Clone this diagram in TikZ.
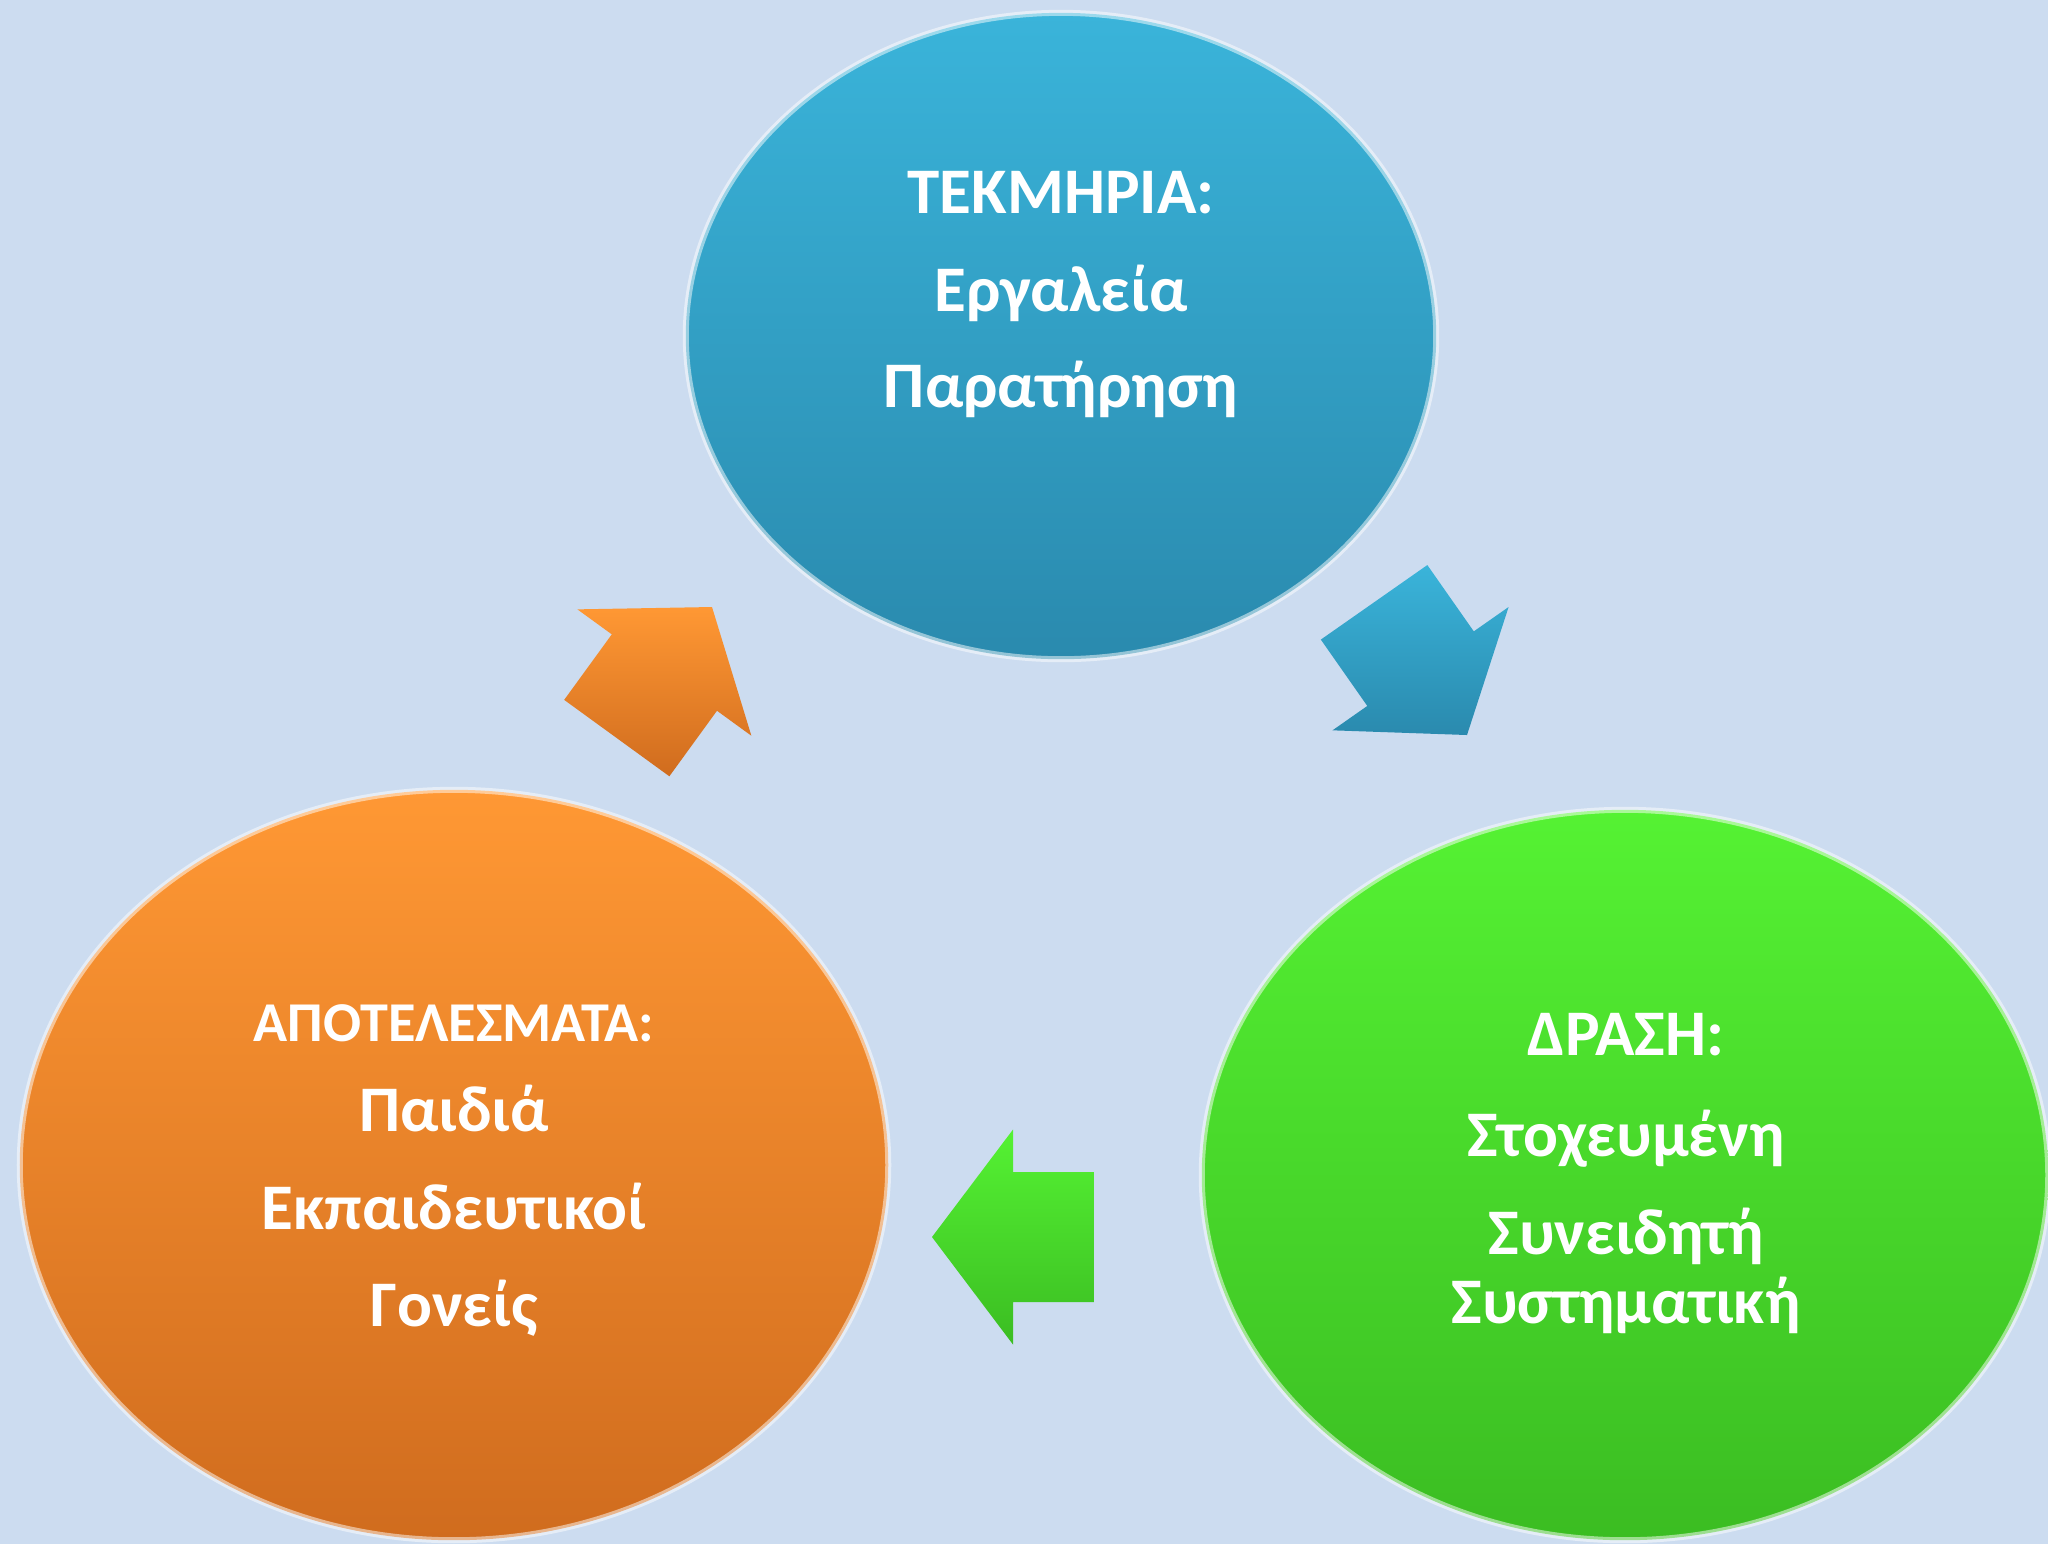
\documentclass[tikz,border=0pt]{standalone}
\usepackage{fontspec}
\setmainfont{Carlito}
\usepackage{tikz}
\usetikzlibrary{shapes.geometric}
\definecolor{slidebg}{HTML}{CCDCF0}
\definecolor{blueTop}{HTML}{3AB4DA}
\definecolor{blueBot}{HTML}{2A8AAE}
\definecolor{orangeTop}{HTML}{FF9834}
\definecolor{orangeBot}{HTML}{D06C1E}
\definecolor{greenTop}{HTML}{55F233}
\definecolor{greenBot}{HTML}{3BBD22}

\begin{document}
\begin{tikzpicture}
                        [
                            x=0.01cm, y=-0.01cm,
                            bubble/.style={ellipse, inner sep=0pt, line width=0.6mm, draw=white, draw opacity=0.5},
                            line text/.style={anchor=base, text=white, font=\fontsize{18.5}{22}\selectfont\bfseries},
                            small head/.style={anchor=base, text=white, font=\fontsize{16}{19}\selectfont\bfseries}
                        ]
                        \clip (0,0) rectangle (2048,1544);
                        \fill[slidebg] (0,0) rectangle (2048,1544);
                        % the three stages
                        \node[bubble, top color=blueTop, bottom color=blueBot, minimum width=7.5cm, minimum height=6.46cm] (tekmiria) at (1061,336) {};
                        \node[bubble, top color=orangeTop, bottom color=orangeBot, minimum width=8.68cm, minimum height=7.5cm] (apotelesmata) at (454,1165) {};
                        \node[bubble, top color=greenTop, bottom color=greenBot, minimum width=8.46cm, minimum height=7.3cm] (drasi) at (1625,1175) {};
                        \node[line text] (tek-0) at (1061,213) {ΤΕΚΜΗΡΙΑ:};
                        \node[line text] (tek-1) at (1061,311) {Εργαλεία};
                        \node[line text] (tek-2) at (1061,407) {Παρατήρηση};
                        \node[small head] (apo-0) at (454,1041) {ΑΠΟΤΕΛΕΣΜΑΤΑ:};
                        \node[line text] (apo-1) at (454,1131) {Παιδιά};
                        \node[line text] (apo-2) at (454,1229) {Εκπαιδευτικοί};
                        \node[line text] (apo-3) at (454,1326) {Γονείς};
                        \node[line text] (dra-0) at (1626,1055) {ΔΡΑΣΗ:};
                        \node[line text] (dra-1) at (1626,1156) {Στοχευμένη};
                        \node[line text] (dra-2) at (1626,1254) {Συνειδητή};
                        \node[line text] (dra-3) at (1626,1323) {Συστηματική};
                        % block arrows, tip at the given point
                        \foreach \tipx/\tipy/\ang/\ca/\cb in {712/607/54/orangeTop/orangeBot, 1467/735/-55/blueTop/blueBot, 932/1237/180/greenTop/greenBot}
                            \shade[top color=\ca, bottom color=\cb, shift={(\tipx,\tipy)}, rotate=\ang]
                                (0,0) -- (-81,107.5) -- (-81,65) -- (-162,65) -- (-162,-65) -- (-81,-65) -- (-81,-107.5) -- cycle;
                        \end{tikzpicture}
\end{document}
